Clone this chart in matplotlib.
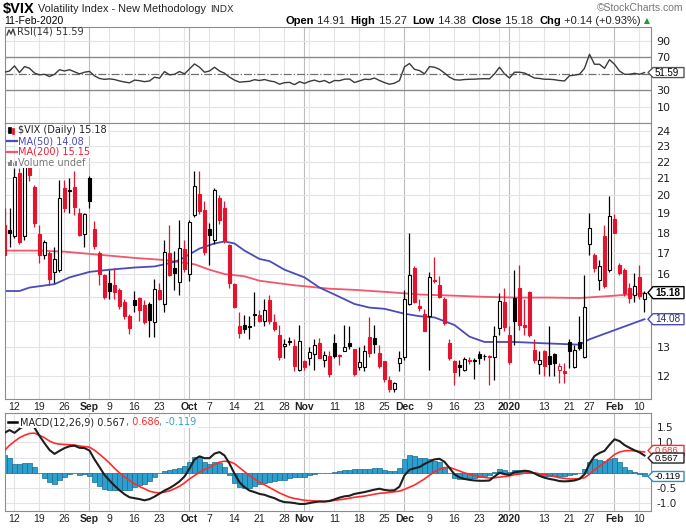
import numpy as np
import matplotlib
matplotlib.use("Agg")
import matplotlib.pyplot as plt
import matplotlib.transforms as mtransforms
from matplotlib.lines import Line2D
from matplotlib.patches import Rectangle, Polygon

# $VIX daily bars, 8-Aug-2019 .. 11-Feb-2020 (index 0 = 8-Aug)
opens = [18.4, 18.15, 17.8, 21.3, 17.8, 21.7, 20.5, 17.9, 16.9, 17.0, 16.1, 16.2, 20.4, 20.25, 20.5, 19.0,
         17.9, 21.0, 18.2, 17.0, 15.96, 15.6, 15.5, 15.3, 14.8, 14.2, 14.85, 14.95, 14.65, 14.7, 13.95, 15.3,
         14.7, 17.0, 16.3, 15.65, 17.2, 16.0, 18.9, 20.1, 19.2, 18.2, 17.6, 19.85, 19.3, 17.35, 15.55, 13.8,
         13.85, 13.82, 14.28, 14.25, 14.0, 14.85, 13.95, 13.45, 13.05, 13.25, 13.05, 12.2, 12.5, 12.6, 12.75, 13.15,
         12.55, 12.7, 13.15, 12.72, 12.85, 13.15, 12.95, 12.3, 12.3, 13.4, 13.35, 12.8, 12.5, 11.85, 11.55, 12.45,
         12.65, 14.7, 16.3, 14.6, 14.3, 14.2, 15.75, 15.5, 14.9, 13.15, 12.5, 12.35, 12.2, 12.55, 12.55, 12.75,
         12.7, 12.7, 12.65, 13.75, 14.8, 13.45, 14.95, 15.4, 13.85, 15.2, 12.9, 12.4, 12.85, 12.7, 12.75, 12.2,
         12.17, 13.2, 12.3, 13.2, 12.65, 17.4, 16.9, 15.75, 17.8, 16.2, 18.7, 16.4, 16.2, 15.4, 15.1, 15.85, 14.91]
highs = [19.3, 19.3, 21.6, 21.6, 22.3, 22.0, 20.6, 18.4, 17.6, 17.1, 17.3, 20.9, 20.9, 21.0, 21.4, 19.3,
         19.0, 21.1, 18.6, 17.1, 16.0, 16.2, 16.3, 15.4, 14.9, 14.3, 15.25, 15.0, 14.85, 14.8, 15.8, 15.6,
         17.6, 18.4, 17.1, 18.65, 17.6, 18.65, 21.4, 21.4, 19.7, 18.5, 20.4, 20.0, 19.7, 17.4, 15.6, 14.35,
         14.25, 14.2, 15.2, 14.45, 14.9, 15.1, 14.3, 13.85, 13.3, 13.4, 13.3, 13.85, 12.55, 13.0, 13.3, 13.35,
         12.85, 12.85, 13.5, 12.75, 13.85, 13.8, 12.95, 13.0, 13.1, 14.15, 13.85, 13.1, 12.5, 12.0, 11.8, 12.85,
         15.3, 18.0, 16.35, 14.9, 14.5, 16.1, 16.8, 15.9, 15.0, 13.3, 12.55, 12.55, 12.65, 12.65, 12.6, 12.85,
         12.75, 12.72, 13.8, 15.15, 15.4, 13.8, 16.2, 16.4, 14.9, 15.25, 13.3, 12.85, 12.9, 13.8, 12.8, 12.45,
         12.45, 13.3, 13.1, 14.2, 15.95, 19.0, 17.0, 16.65, 18.4, 19.95, 18.95, 16.5, 16.3, 15.6, 16.05, 16.4, 15.27]
lows = [16.9, 17.3, 17.7, 17.4, 17.6, 20.8, 18.3, 16.5, 16.7, 15.5, 15.6, 16.1, 19.1, 19.0, 18.9, 17.8,
        17.3, 19.3, 17.2, 15.5, 14.9, 14.9, 14.9, 14.5, 14.1, 13.5, 14.35, 14.0, 13.9, 13.4, 13.4, 14.85,
        14.35, 15.9, 15.3, 15.1, 16.1, 15.7, 18.8, 18.95, 16.9, 16.4, 17.4, 18.45, 17.45, 15.4, 14.55, 13.35,
        13.55, 13.3, 13.8, 13.95, 13.8, 13.9, 13.6, 12.55, 12.6, 13.1, 12.15, 12.15, 12.2, 12.35, 12.2, 12.6,
        12.3, 11.95, 12.6, 12.35, 12.85, 12.95, 11.97, 12.2, 12.15, 12.65, 12.8, 12.25, 11.8, 11.45, 11.45, 12.15,
        12.55, 14.65, 14.75, 14.4, 13.6, 12.2, 15.6, 14.95, 13.85, 12.55, 11.7, 12.0, 12.15, 12.4, 11.9, 12.4,
        12.55, 11.7, 11.85, 13.45, 13.6, 12.4, 13.1, 13.65, 13.45, 13.4, 12.45, 12.05, 12.0, 11.97, 11.97, 11.75,
        11.75, 12.25, 12.25, 12.9, 12.6, 16.9, 16.1, 15.3, 15.4, 16.1, 17.95, 15.95, 15.05, 14.75, 14.8, 14.9, 14.38]
closes = [16.91, 17.97, 21.09, 17.52, 22.10, 21.18, 18.47, 16.88, 17.50, 15.80, 16.68, 19.87, 19.32, 20.31, 19.35, 17.88,
          18.98, 19.66, 17.33, 16.0, 15.00, 15.27, 15.20, 14.61, 14.22, 13.74, 14.67, 14.44, 13.95, 14.05, 15.32, 14.91,
          17.05, 15.96, 16.07, 17.22, 16.24, 18.56, 20.56, 19.12, 17.04, 17.86, 20.28, 18.64, 17.57, 15.58, 14.57, 13.54,
          13.68, 13.79, 14.25, 14.0, 14.46, 14.01, 13.71, 12.65, 13.11, 13.20, 12.33, 13.22, 12.30, 12.83, 13.10, 12.62,
          12.73, 12.07, 12.69, 12.68, 13.0, 13.05, 12.05, 12.46, 12.86, 12.78, 13.13, 12.34, 11.87, 11.54, 11.75, 12.62,
          14.91, 15.96, 14.80, 14.52, 13.62, 15.86, 15.68, 14.99, 13.94, 12.63, 12.14, 12.29, 12.58, 12.50, 12.51, 12.61,
          12.67, 12.65, 13.43, 14.82, 13.78, 12.47, 14.02, 13.85, 13.79, 13.45, 12.54, 12.56, 12.32, 12.39, 12.42, 12.32,
          12.10, 12.85, 12.91, 12.98, 14.56, 18.23, 16.28, 16.39, 15.49, 18.84, 17.97, 16.05, 15.15, 14.96, 15.47, 15.04, 15.18]

# moving averages (day index, value)
ma50_idx = [0, 3, 5, 10, 13, 17, 21, 26, 30, 33, 35, 39, 42, 44, 46, 48, 51, 53, 56, 60, 63, 66, 70, 73,
            76, 80, 83, 86, 90, 93, 96, 102, 108, 115, 117, 122, 128]
ma50_val = [15.25, 15.25, 15.4, 15.55, 15.85, 16.1, 16.2, 16.3, 16.35, 16.5, 16.65, 17.2, 17.45, 17.55, 17.45,
            17.1, 16.7, 16.6, 16.2, 15.85, 15.4, 15.1, 14.7, 14.55, 14.5, 14.3, 14.2, 14.15, 13.85, 13.4, 13.2,
            13.2, 13.15, 13.1, 13.3, 13.65, 14.08]
ma200_idx = [0, 7, 12, 19, 26, 32, 38, 41, 44, 48, 51, 58, 65, 70, 77, 83, 90, 96, 102, 109, 115, 122, 128]
ma200_val = [17.1, 17.1, 17.05, 16.9, 16.75, 16.65, 16.45, 16.2, 16.0, 15.9, 15.7, 15.5, 15.35, 15.3, 15.2,
             15.1, 15.05, 15.0, 14.97, 14.97, 14.95, 15.05, 15.15]

rsi = [52, 53.5, 59.6, 51.6, 58.8, 56.8, 51, 48.8, 49.5, 46.8, 49.5, 55, 53.5, 55, 52.5, 50,
       52, 53, 47.6, 44.5, 43.4, 44, 43.2, 41.5, 40.2, 39.2, 42.5, 41.8, 40.6, 41.5, 46, 44.8,
       52.8, 48.8, 49.5, 52.8, 50, 56, 62, 58, 52, 53.5, 58, 53.5, 50.8, 46, 42.5, 40,
       40.6, 41, 43, 42, 43.2, 41.5, 40.5, 37.6, 39.4, 39.8, 37, 40.6, 38.5, 41, 42.5, 40.5,
       42, 39, 42, 41.8, 43.6, 43.8, 39.6, 41.5, 43.6, 43.2, 45, 42, 39.5, 37.5, 38.8, 42,
       58.5, 62.5, 55.5, 54, 50, 58.8, 58, 55.5, 51, 46, 43, 42.5, 43.2, 43.5, 43.6, 44,
       44.2, 44, 50, 58, 50, 45, 52, 52, 51, 48, 45, 44.5, 43.5, 43.5, 43, 42,
       41.5, 47.8, 48.5, 49.5, 56.7, 73.6, 61.6, 61.6, 56.7, 67.1, 61.6, 53.5, 49.5, 49.5, 50.7, 49.5, 51.59]

macd = [1.31, 1.40, 1.31, 1.44, 1.55, 1.62, 1.48, 1.21, 0.97, 0.75, 0.62, 0.72,
        0.81, 0.87, 0.89, 0.82, 0.81, 0.73, 0.44, 0.19, -0.07, -0.25,
        -0.42, -0.57, -0.70, -0.80, -0.83, -0.86, -0.90, -0.86, -0.78, -0.68,
        -0.58, -0.50, -0.40, -0.28, -0.12, 0.14, 0.44, 0.54, 0.48, 0.48,
        0.63, 0.68, 0.57, 0.30, -0.03, -0.31, -0.47, -0.58, -0.63, -0.69,
        -0.72, -0.78, -0.83, -0.91, -0.96, -0.97, -0.99, -1.02, -1.02, -0.99,
        -0.96, -0.94, -0.94, -0.92, -0.87, -0.81, -0.77, -0.75, -0.69, -0.66,
        -0.63, -0.59, -0.55, -0.52, -0.56, -0.58, -0.57, -0.45, -0.08, 0.10,
        0.15, 0.19, 0.29, 0.37, 0.44, 0.46, 0.36, 0.16, -0.05, -0.15,
        -0.20, -0.23, -0.25, -0.26, -0.26, -0.25, -0.12, 0.0, -0.04, -0.07,
        0.02, 0.04, 0.07, 0.05, -0.02, -0.10, -0.16, -0.20, -0.23, -0.27,
        -0.28, -0.27, -0.25, -0.20, -0.05, 0.30, 0.55, 0.65, 0.72, 0.92,
        1.10, 1.04, 0.91, 0.82, 0.74, 0.67, 0.567]
signal = [0.73, 0.90, 1.03, 1.15, 1.23, 1.29, 1.30, 1.23, 1.15, 1.04, 0.97, 0.94,
          0.93, 0.92, 0.91, 0.88, 0.86, 0.84, 0.74, 0.61, 0.47, 0.32,
          0.15, 0.0, -0.13, -0.25, -0.36, -0.45, -0.52, -0.60, -0.64, -0.66,
          -0.63, -0.59, -0.52, -0.44, -0.33, -0.20, -0.09, 0.02, 0.11, 0.18,
          0.27, 0.35, 0.38, 0.37, 0.30, 0.17, 0.04, -0.09, -0.20, -0.31,
          -0.39, -0.48, -0.57, -0.66, -0.73, -0.80, -0.84, -0.87, -0.90, -0.91,
          -0.92, -0.93, -0.94, -0.93, -0.90, -0.88, -0.86, -0.83, -0.80, -0.78,
          -0.76, -0.73, -0.70, -0.67, -0.66, -0.64, -0.62, -0.60, -0.54, -0.47,
          -0.40, -0.30, -0.20, -0.08, 0.04, 0.12, 0.17, 0.18, 0.12, 0.06,
          0.0, -0.05, -0.09, -0.12, -0.15, -0.17, -0.16, -0.14, -0.12, -0.10,
          -0.06, -0.04, -0.01, 0.01, 0.00, -0.03, -0.06, -0.09, -0.12, -0.16,
          -0.18, -0.20, -0.20, -0.19, -0.16, -0.04, 0.10, 0.22, 0.33, 0.46,
          0.60, 0.68, 0.72, 0.73, 0.72, 0.70, 0.686]

tick_idx = [2, 7, 12, 17, 21, 26, 31, 37, 41, 46, 51, 56, 60, 66, 71, 76, 80, 85, 90, 95, 101, 108, 113, 117, 122, 127]
tick_lbl = ["12", "19", "26", "Sep", "9", "16", "23", "Oct", "7", "14", "21", "28", "Nov", "11", "18", "25",
            "Dec", "9", "16", "23", "2020", "13", "21", "27", "Feb", "10"]
week_idx = [2, 7, 12, 21, 26, 31, 36, 41, 46, 51, 56, 61, 66, 71, 76, 85, 90, 95, 99, 103, 108, 113, 117, 127]
month_idx = [17, 37, 60, 80, 101, 122]
month_names = {"Sep", "Oct", "Nov", "Dec", "2020", "Feb"}

W, H = 686, 530
RED = "#e3142e"
BLUE_MA = "#4b4bb9"
RED_MA = "#f0586c"
GRID = "#e4e4e4"
GRID_M = "#bcbcbc"
EDGE = "#8c8c8c"
PIX = mtransforms.IdentityTransform()


def fx(px):
    return px / W


def fy(py):
    return 1 - py / H


def panel(top, bottom):
    return fig.add_axes([fx(5), fy(bottom), fx(646), (bottom - top) / H])


def value_tag(ax, y, s, ec, tc="black", weight="normal", z=10, dy=0, hh=5.0, size=6.8):
    # pentagon tag on the right edge, pointing at the last value
    yp = ax.transData.transform((0, y))[1] + dy
    verts = [(653, yp - hh), (684, yp - hh), (684, yp + hh), (653, yp + hh), (648, yp)]
    fig.add_artist(Polygon(verts, closed=True, transform=PIX, facecolor="white", edgecolor=ec,
                           linewidth=1.0, zorder=z))
    fig.text(655, yp, s, transform=PIX, ha="left", va="center", fontsize=size, color=tc,
             fontweight=weight, family="Liberation Sans", zorder=z + 0.1)


fig = plt.figure(figsize=(W / 100, H / 100), dpi=100, facecolor="white")
renderer = fig.canvas.get_renderer()

n = len(closes)
x = np.arange(n)
o, hi, lo, c = (np.array(v) for v in (opens, highs, lows, closes))
prev = np.r_[o[0], c[:-1]]
col = np.where(c < prev, RED, "black")
fill = np.where(c >= o, "white", col)

ax_r = panel(27, 123)
ax_p = panel(123, 399)
ax_m = panel(413, 511)

for ax in (ax_r, ax_p, ax_m):
    ax.set_xlim(0.1, 129.3)
    for s in ax.spines.values():
        s.set_color(EDGE)
        s.set_linewidth(0.8)
    for w in week_idx:
        ax.axvline(w, color=GRID, lw=0.8, zorder=0)
    for m in month_idx:
        ax.axvline(m, color=GRID_M, lw=0.8, zorder=0)
    ax.yaxis.tick_right()
    ax.tick_params(axis="y", length=0, pad=4, labelsize=8, labelcolor="#222222")
    ax.tick_params(axis="x", length=0, pad=2.5, labelsize=7.5, labelcolor="#222222")
    ax.set_xticks(tick_idx)
    ax.set_xticklabels(tick_lbl)
    for t in ax.get_xticklabels():
        t.set_family("Liberation Sans")
        if t.get_text() in month_names:
            t.set_fontweight("bold")

# RSI panel
ax_r.set_ylim(-9.2, 106.5)
ax_r.set_yticks([10, 30, 70, 90])
ax_r.tick_params(axis="x", labelbottom=False)
for lv in (10, 90):
    ax_r.axhline(lv, color=GRID, lw=0.8, zorder=0)
for lv in (30, 70):
    ax_r.axhline(lv, color="#8a8a8a", lw=1.0, zorder=1)
ax_r.axhline(50, color="#707070", lw=0.9, ls="-.", zorder=1)
ax_r.plot(x, rsi, color="#3a3a3a", lw=1.0, zorder=3)

# price panel
ax_p.set_yscale("log")
ax_p.set_ylim(11.23, 24.55)
yt = list(range(12, 25))
ax_p.set_yticks(yt)
# 14 and 15 sit behind the value tags, as on the reference
ax_p.set_yticklabels(["" if v in (14, 15) else str(v) for v in yt])
ax_p.yaxis.set_minor_locator(matplotlib.ticker.NullLocator())
ax_p.tick_params(axis="y", which="both", length=0)
for v in yt:
    ax_p.axhline(v, color=GRID, lw=0.8, zorder=0)
ax_p.plot(ma200_idx, ma200_val, color=RED_MA, lw=1.3, zorder=2)
ax_p.plot(ma50_idx, ma50_val, color=BLUE_MA, lw=1.3, zorder=2)
ax_p.vlines(x, lo, hi, colors=col, lw=0.9, zorder=3)
ax_p.bar(x, np.maximum(np.abs(c - o), 0.001), bottom=np.minimum(o, c), width=0.62,
         color=fill, edgecolor=col, linewidth=0.8, zorder=4)

# MACD panel
hist = np.array(macd) - np.array(signal)
ax_m.set_ylim(-1.25, 1.96)
mt = [-1.0, -0.5, 0.0, 0.5, 1.0, 1.5]
ax_m.set_yticks(mt)
ax_m.set_yticklabels(["" if v in (0.0, 0.5) else f"{v:.1f}" for v in mt])
ax_m.tick_params(axis="y", labelsize=7.5)
for v in mt:
    ax_m.axhline(v, color=GRID, lw=0.8, zorder=0)
ax_m.bar(x, hist, width=1.0, color="#2ba0cf", edgecolor="#1c6a8c", linewidth=0.5, zorder=2)
ax_m.plot(x, signal, color="#ff2b2b", lw=1.2, zorder=3)
ax_m.plot(x, macd, color="#1e1e1e", lw=1.5, zorder=4)

# value tags at the right edge
value_tag(ax_r, rsi[-1], f"{rsi[-1]:.2f}", "#555555", hh=5.0, size=7.0)
value_tag(ax_p, ma50_val[-1], f"{ma50_val[-1]:.2f}", BLUE_MA, tc="#2c2c7a", hh=5.5, size=7.2)
value_tag(ax_p, c[-1], f"{c[-1]:.2f}", "black", weight="bold", z=11, hh=6.0, size=7.2)
value_tag(ax_m, signal[-1], f"{signal[-1]:.3f}", "#ff2b2b", tc="#ff2b2b", z=9, dy=1.5)
value_tag(ax_m, macd[-1], f"{macd[-1]:.3f}", "#222222", z=10, dy=-2.5)
value_tag(ax_m, hist[-1], f"{hist[-1]:.3f}", "#2b8fc8", z=10)


def run(pieces, x0, y, size, family="DejaVu Sans", bg=False):
    xp = x0
    for s, w, cl in pieces:
        t = fig.text(fx(xp), fy(y), s, fontsize=size, fontweight=w, color=cl, va="center", ha="left",
                     family=family, zorder=4)
        xp += t.get_window_extent(renderer).width
    if bg:
        fig.add_artist(Rectangle((fx(x0 - 1), fy(y + 5.5)), fx(xp - x0 + 2), 11 / H,
                                 facecolor="white", edgecolor="none", zorder=3.5))
    return xp


# header
fig.text(fx(3), fy(9), "$VIX", fontsize=10.5, fontweight="bold", va="center", family="Liberation Sans")
t = fig.text(fx(38), fy(9), "Volatility Index - New Methodology", fontsize=7.8, va="center",
             family="Liberation Sans", color="#222222")
tx = 38 + t.get_window_extent(renderer).width + 4
fig.text(fx(tx), fy(9), "INDX", fontsize=6.8, va="center", family="DejaVu Sans", color="#333333")
fig.text(fx(683), fy(8), "\u00a9StockCharts.com", fontsize=7.5, va="center", ha="right",
         family="Liberation Sans", color="#777777")
fig.text(fx(4), fy(21), "11-Feb-2020", fontsize=7.5, va="center", family="Liberation Sans")

hdr = [("Open", "bold", "black"), (" 14.91  ", "normal", "#222222"),
       ("High", "bold", "black"), (" 15.27  ", "normal", "#222222"),
       ("Low", "bold", "black"), (" 14.38  ", "normal", "#222222"),
       ("Close", "bold", "black"), (" 15.18  ", "normal", "#222222"),
       ("Chg", "bold", "black"), (" +0.14 (+0.93%) ", "normal", "#222222")]
probe = []
for s, w, cl in hdr:
    t = fig.text(0, 0, s, fontsize=8, fontweight=w, family="Liberation Sans")
    probe.append(t.get_window_extent(renderer).width)
    t.remove()
end = run(hdr, 644 - sum(probe), 21, 8, family="Liberation Sans")
fig.text(fx(end), fy(21), "\u25b2", fontsize=5.5, color="#1a9a3a", va="center", family="DejaVu Sans")

# RSI legend
fig.add_artist(Line2D([fx(7), fx(9), fx(11), fx(13), fx(15)], [fy(35), fy(30), fy(34), fy(29), fy(35)],
                      color="#444444", lw=1.0))
run([("RSI(14) 51.59", "normal", "#333333")], 17, 32, 7)

# price legend
run([("$VIX (Daily) 15.18", "normal", "#222222")], 18, 130, 7, bg=True)
fig.add_artist(Rectangle((fx(8), fy(133)), fx(2.5), 6 / H, facecolor="black", edgecolor="black", lw=0.5, zorder=4))
fig.add_artist(Rectangle((fx(12), fy(134)), fx(2.5), 6 / H, facecolor=RED, edgecolor=RED, lw=0.5, zorder=4))
run([("MA(50) 14.08", "normal", BLUE_MA)], 18, 141.2, 7, bg=True)
fig.add_artist(Line2D([fx(7), fx(17)], [fy(141.2)] * 2, color=BLUE_MA, lw=1.6, zorder=4))
run([("MA(200) 15.15", "normal", "#e3203a")], 18, 152, 7, bg=True)
fig.add_artist(Line2D([fx(7), fx(17)], [fy(152)] * 2, color=RED_MA, lw=1.6, zorder=4))
run([("Volume undef", "normal", "#777777")], 18, 162.6, 7, bg=True)
for k, hh in enumerate((4, 6, 3, 5)):
    fig.add_artist(Rectangle((fx(8 + 2.3 * k), fy(166)), fx(1.6), hh / H, facecolor="#888888",
                             edgecolor="none", zorder=4))

# MACD legend
run([("MACD(12,26,9) 0.567", "normal", "#222222"), (", 0.686", "normal", "#ff2b2b"),
     (", -0.119", "normal", "#2aa3d6")], 20.5, 422.3, 7, bg=True)
fig.add_artist(Line2D([fx(8), fx(17)], [fy(422.3)] * 2, color="black", lw=1.8, zorder=4))

fig.savefig("out.png", dpi=100, facecolor="white")
